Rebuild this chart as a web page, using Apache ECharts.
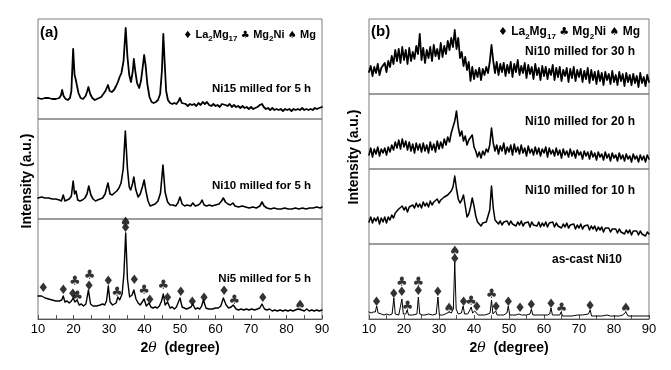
<!DOCTYPE html>
<html><head><meta charset="utf-8">
<script src="https://cdn.jsdelivr.net/npm/echarts@6/dist/echarts.min.js"></script>
<style>html,body{margin:0;padding:0;background:#fff}#c{width:671px;height:370px}</style>
</head><body><div id="c"></div>
<script>
// ---------- tick labels ----------
const xTicks = [10, 20, 30, 40, 50, 60, 70, 80, 90];
const xMin = 10, xMax = 90;

// ---------- panel (a): [2theta, intensity] ----------
const ni15_5h = [[10,21],[10.5,23],[11,20],[11.5,22],[12,21],[12.5,19],[13,21],[13.5,19],[14,20],[14.5,18],[15,20],[15.5,19],[16,21],[16.5,24],[16.8,29],[17.2,23],[17.8,20],[18.4,19],[19.0,21],[19.4,28],[19.9,70],[20.3,44],[20.6,40],[20.9,42],[21.4,26],[22,21],[22.7,20],[23.4,23],[23.8,27],[24.2,32],[24.7,25],[25.3,21],[26,19],[26.6,20],[27.2,21],[27.8,22],[28.4,25],[29,28],[29.7,34],[30.2,28],[30.8,27],[31.4,29],[32,33],[32.5,37],[33,42],[33.5,46],[34.1,58],[34.7,91],[35.2,62],[35.7,44],[36.2,37],[36.7,48],[37.0,60],[37.4,48],[37.9,36],[38.5,31],[39.0,38],[39.5,52],[39.9,64],[40.3,54],[40.8,35],[41.4,22],[42,17],[42.6,16],[43.2,17],[43.8,19],[44.4,25],[44.9,48],[45.3,85],[45.7,55],[46.1,28],[46.6,19],[47.2,16],[47.8,15],[48.4,16],[49,15],[49.6,18],[50.0,21],[50.5,16],[51,14],[51.6,15],[52.2,13],[52.8,15],[53.4,14],[54,15],[54.6,13],[55.2,16],[55.8,14],[56.4,17],[57,15],[57.6,17],[58.2,14],[58.8,13],[59.4,15],[60,13],[60.6,14],[61.2,12],[61.8,15],[62.3,17],[62.8,14],[63.4,13],[64,15],[64.6,12],[65.2,14],[65.8,12],[66.4,13],[67,11],[67.6,13],[68.2,11],[68.8,12],[69.4,10],[70,12],[70.6,10],[71.2,11],[71.8,12],[72.5,14],[73.1,15],[73.6,12],[74.2,10],[74.8,11],[75.4,9],[76,11],[76.6,9],[77.2,10],[77.8,9],[78.4,10],[79,8],[79.6,10],[80.2,9],[80.8,10],[81.4,8],[82,10],[82.6,9],[83.2,10],[83.8,9],[84.4,11],[85,9],[85.6,10],[86.2,9],[86.8,10],[87.4,9],[88,11],[88.6,10],[89.2,11],[90,12]];

const ni10_5h = [[10,21],[10.5,19],[11,22],[11.5,20],[12,21],[12.5,19],[13,21],[13.5,19],[14,20],[14.5,18],[15,20],[15.5,18],[16,19],[16.6,18],[17.1,24],[17.6,18],[18.2,19],[18.8,20],[19.4,23],[19.9,38],[20.3,25],[20.7,28],[21.2,19],[21.8,18],[22.5,19],[23.2,21],[23.8,25],[24.3,33],[24.9,24],[25.5,20],[26.2,18],[26.8,19],[27.5,20],[28.2,21],[28.9,25],[29.7,36],[30.3,25],[30.9,24],[31.5,26],[32.2,28],[32.8,31],[33.4,36],[34.0,50],[34.6,88],[35.2,50],[35.7,32],[36.1,29],[36.6,35],[37.0,42],[37.5,30],[38.2,22],[38.8,25],[39.4,32],[39.9,39],[40.4,28],[41.0,18],[41.6,13],[42.3,14],[43,15],[43.8,18],[44.5,26],[45.2,54],[45.8,27],[46.5,17],[47.2,14],[48,14],[48.8,13],[49.4,16],[50.0,22],[50.6,15],[51.3,13],[52,14],[53,13],[53.6,16],[54.3,13],[55.2,14],[55.8,16],[56.2,19],[56.8,14],[57.5,13],[58.3,14],[59,13],[60,14],[61,15],[61.7,18],[62.2,21],[62.8,17],[63.5,15],[64.2,14],[64.9,16],[65.5,13],[66.5,12],[67.5,13],[68.5,12],[69.5,11],[70.5,12],[71.5,11],[72.5,13],[73.1,17],[73.7,13],[74.5,11],[75.5,10],[76.5,11],[77.5,10],[78.5,10],[79.5,11],[80.5,10],[81.5,10],[82.5,11],[83.5,10],[84.5,11],[85.5,10],[86.5,11],[87.5,11],[88.5,12],[89.5,11],[90,12]];

const ni5_5h = [[10,23],[10.5,22],[11,23],[11.5,25],[12,21],[12.5,22],[13,20],[13.5,21],[14,19],[14.5,20],[15,18],[15.5,19],[16,18],[16.7,19],[17.1,23],[17.6,17],[18.2,18],[18.8,16],[19.4,18],[19.9,21],[20.4,17],[21.0,19],[21.6,14],[22.2,15],[22.8,13],[23.5,15],[24.2,29],[24.8,15],[25.5,13],[26,14],[26.5,13],[27,15],[27.5,14],[28.2,15],[28.8,14],[29.3,18],[29.8,33],[30.3,17],[31,14],[31.5,15],[32,16],[32.5,22],[33,19],[33.7,25],[34.2,45],[34.7,86],[35.2,40],[35.8,22],[36.5,24],[37.0,29],[37.6,20],[38.2,16],[38.8,14],[39.3,16],[39.9,20],[40.5,13],[41.3,16],[41.8,12],[42.4,11],[43,12],[43.6,11],[44.2,13],[44.8,18],[45.3,25],[45.8,14],[46.5,17],[47.2,11],[47.8,12],[48.4,10],[49,12],[49.5,14],[50.0,21],[50.6,12],[51.2,11],[51.8,10],[52.5,11],[53.1,12],[53.6,15],[54.3,10],[55,11],[55.6,10],[56.1,13],[56.6,19],[57.3,11],[58,10],[58.5,11],[59.2,10],[60,11],[60.8,11],[61.5,13],[62.2,21],[63,14],[63.7,11],[64.4,12],[65,14],[65.8,10],[66.5,9],[67.2,10],[68,9],[68.7,10],[69.4,9],[70.2,10],[71,9],[71.8,10],[72.5,11],[73.1,15],[73.8,10],[74.5,9],[75.2,10],[76,8],[76.7,9],[77.4,8],[78.2,9],[79,8],[79.7,9],[80.4,8],[81.1,9],[81.8,8],[82.5,9],[83.2,10],[83.7,12],[84.3,9],[85,8],[85.7,10],[86.4,8],[87.1,9],[87.8,8],[88.5,9],[89.2,8],[90,9]];

// ---------- panel (b): sampled every 0.5 deg from 10 to 90 ----------
const bStart = 10, bStep = 0.5;
const ni10_30h = [22,28,18,27,21,30,19,26,24,31,22,33,27,38,30,44,33,45,31,47,34,44,30,46,33,42,35,48,40,60,34,46,31,44,36,47,33,49,38,45,35,51,37,48,40,53,44,56,47,64,45,56,36,42,28,37,24,32,13,27,15,24,17,26,14,25,19,27,21,32,49,33,21,32,19,30,22,31,18,29,21,32,17,30,22,34,19,28,21,31,16,29,20,27,15,30,19,26,14,28,18,27,15,25,19,29,14,26,17,27,13,24,18,26,12,25,16,27,13,24,17,25,12,23,15,26,11,24,14,22,10,23,13,21,9,22,14,20,10,23,12,19,9,22,13,20,8,21,12,19,9,20,11,18,7,21,11,17,8,19,12];
const ni10_20h = [14,21,12,20,15,22,13,20,16,21,14,22,17,24,19,27,21,29,20,30,22,28,19,27,18,25,16,26,19,25,17,26,18,24,16,27,19,25,17,28,20,27,21,30,24,32,27,36,35,48,58,42,33,38,28,33,24,29,30,34,22,18,12,17,11,18,14,20,17,24,41,26,18,24,15,23,18,26,15,22,17,24,14,25,17,22,15,24,16,21,13,23,16,20,14,22,15,21,13,20,16,22,12,21,15,19,13,21,14,19,11,20,14,18,12,20,13,18,11,19,14,17,10,18,13,17,10,18,12,16,9,17,12,15,9,17,11,15,8,16,11,14,8,16,10,14,8,15,10,13,7,15,10,13,7,14,9,13,7,14,10];
const ni10_10h = [22,27,21,26,23,27,20,26,22,27,21,27,24,29,26,31,31,35,33,38,34,37,32,37,35,39,36,41,37,40,36,42,38,41,37,43,39,42,40,45,41,44,43,47,45,49,49,53,57,68,55,45,41,44,49,38,27,30,37,46,38,28,22,20,18,21,19,22,23,34,58,36,24,23,20,23,19,22,20,23,19,23,20,22,18,22,19,23,18,21,19,22,17,22,19,21,18,22,17,21,18,22,17,21,19,22,17,21,18,20,16,20,17,21,16,19,17,20,15,19,16,20,15,18,16,19,14,18,15,18,13,17,14,17,12,16,14,16,12,15,13,15,11,15,12,14,10,14,11,14,9,13,11,13,9,13,10,12,8,12,10];
const asCastNi10 = [[10,7],[10.6,6],[11.2,7],[11.8,7],[12.2,13],[12.6,6],[13.5,5],[14.3,4],[15,5],[15.8,4],[16.6,5],[17.1,21],[17.5,5],[18.5,4],[19.0,5],[19.4,20],[19.8,5],[20.5,5],[20.9,9],[21.3,4],[22.5,4],[23.7,5],[24.1,22],[24.5,5],[25.3,4],[26,4],[27,5],[27.5,6],[28.2,4],[29.2,5],[29.7,22],[30.1,4],[31,4],[31.8,5],[32.3,6],[32.9,7],[33.5,6],[34.1,10],[34.5,57],[34.9,10],[35.5,5],[36.4,6],[36.9,13],[37.3,5],[38.2,5],[38.7,8],[39.2,12],[39.6,6],[40.2,8],[40.7,8],[41.2,4],[42,4],[43,4],[44,5],[44.6,6],[45.0,19],[45.4,5],[46.2,8],[46.6,4],[47.5,4],[48.5,4],[49.4,6],[49.8,13],[50.2,4],[51,4],[52,4],[52.8,5],[53.2,7],[53.6,4],[55,4],[56,5],[56.4,10],[56.8,4],[58,4],[59,4],[60,4],[61,4],[61.6,5],[62.0,11],[62.4,4],[63.3,4],[64.5,4],[64.9,7],[65.3,3],[66.5,3],[68,3],[69.5,4],[71,4],[72.7,5],[73.2,9],[73.6,3],[75,3],[76.5,3],[78,4],[79,3],[80,3],[81.5,3],[82.5,4],[83.4,7],[84,3],[85.5,3],[87,3],[88.5,3],[90,3]];

// ---------- phase markers ----------
const diamondA = [[11.5,30],[17.1,28],[19.8,24],[24.4,32],[29.8,37],[34.7,90],[37.1,38],[41.5,18],[46.5,20],[50.2,26],[53.5,16],[56.8,20],[62.4,27],[73.3,20]];
const clubA = [[20.4,37],[21.1,22],[24.5,43],[32.3,26],[39.9,28],[45.3,33],[65.3,18]];
const spadeA = [[34.7,96],[83.8,13]];
const diamondB = [[12.2,16],[17.1,24],[19.4,26],[24.1,27],[29.7,26],[34.5,59],[37.0,16],[40.8,11],[46.3,11],[49.8,16],[53.2,10],[56.4,13],[62.0,14],[73.2,12]];
const clubB = [[19.4,36],[21.0,12],[24.1,36],[39.2,17],[45.0,24],[65.0,10]];
const spadeB = [[32.9,10],[34.5,67],[83.4,10]];

// ---------- texts ----------
const labelsA = ['Ni15 milled for 5 h', 'Ni10 milled for 5 h', 'Ni5 milled for 5 h'];
const labelsB = ['Ni10 milled for 30 h', 'Ni10 milled for 20 h', 'Ni10 milled for 10 h', 'as-cast Ni10'];

const FONT = '"Liberation Sans", Arial, "DejaVu Sans", sans-serif';
const chart = echarts.init(document.getElementById('c'), null, {renderer: 'canvas'});

const gridsA = [19, 119, 219].map(t => ({left: 38, top: t, width: 284, height: 100}));
const gridsB = [19, 94, 169, 244].map(t => ({left: 369, top: t, width: 280, height: 75}));
const grids = gridsA.concat(gridsB).map(g => Object.assign(g, {show: true, borderColor: '#7a7a7a', borderWidth: 1, backgroundColor: 'transparent'}));

const bottomIdx = [2, 6];
const xAxes = grids.map((g, i) => {
  const bottom = bottomIdx.includes(i);
  return {
    type: 'value', gridIndex: i, min: xMin, max: xMax, interval: 10, show: bottom,
    axisLine: {show: true, lineStyle: {color: '#555', width: 1}},
    axisTick: {show: true, inside: true, length: 4, lineStyle: {color: '#555'}},
    minorTick: {show: true, splitNumber: 2, length: 4, lineStyle: {color: '#555'}},
    splitLine: {show: false},
    axisLabel: {show: bottom, fontSize: 13, color: '#000', fontFamily: FONT, margin: 4,
      formatter: v => xTicks.includes(v) ? String(v) : ''}
  };
});
const yAxes = grids.map((g, i) => ({type: 'value', gridIndex: i, min: 0, max: i < 3 ? 100 : 75, show: false}));

function line(data, gi, w) {
  return {type: 'line', xAxisIndex: gi, yAxisIndex: gi, data: data, showSymbol: false, symbol: 'none',
    lineStyle: {color: '#000', width: w, join: 'round', cap: 'round'}, silent: true, z: 2, animation: false};
}
function sampled(arr) { return arr.map((v, i) => [bStart + i * bStep, v]); }
function marks(data, gi, ch) {
  return {type: 'scatter', xAxisIndex: gi, yAxisIndex: gi, data: data, symbolSize: 1,
    itemStyle: {color: 'rgba(0,0,0,0)'}, silent: true, z: 5, animation: false,
    label: {show: true, position: 'inside', formatter: ch, color: '#000', fontSize: 13, fontFamily: '"DejaVu Sans", sans-serif'}};
}

const series = [
  line(ni15_5h, 0, 1.8), line(ni10_5h, 1, 1.6), line(ni5_5h, 2, 1.4),
  line(sampled(ni10_30h), 3, 1.8), line(sampled(ni10_20h), 4, 1.6), line(sampled(ni10_10h), 5, 1.5), line(asCastNi10, 6, 1),
  marks(diamondA, 2, '\u2666'), marks(clubA, 2, '\u2663'), marks(spadeA, 2, '\u2660'),
  marks(diamondB, 6, '\u2666'), marks(clubB, 6, '\u2663'), marks(spadeB, 6, '\u2660')
];

function txt(x, y, text, size, align, extra) {
  return Object.assign({type: 'text', x: x, y: y, z: 10, silent: true,
    style: {text: text, font: 'bold ' + size + 'px ' + FONT, fill: '#000', align: align || 'left', verticalAlign: 'middle'}}, extra || {});
}
function legend(x, y, size) {
  const sub = Math.round(size * 0.7);
  return {type: 'text', x: x, y: y, z: 10, silent: true,
    style: {text: '{s|\u2666} {m|La}{u|2}{m|Mg}{u|17} {s|\u2663} {m|Mg}{u|2}{m|Ni} {s|\u2660} {m|Mg}', align: 'right', verticalAlign: 'middle',
      rich: {
        m: {font: 'bold ' + size + 'px ' + FONT, fill: '#000', lineHeight: size + 5, verticalAlign: 'middle'},
        u: {font: 'bold ' + sub + 'px ' + FONT, fill: '#000', lineHeight: size + 5, verticalAlign: 'bottom'},
        s: {font: (size - 1) + 'px "DejaVu Sans", sans-serif', fill: '#000', lineHeight: size + 5, verticalAlign: 'middle'}
      }}};
}
function xTitle(cx) {
  return {type: 'text', x: cx, y: 348, z: 10, silent: true,
    style: {text: '{b|2}{t|\u03B8}{b|  (degree)}', align: 'center', verticalAlign: 'middle',
      rich: {b: {font: 'bold 14px ' + FONT, fill: '#000'}, t: {font: 'italic 14px "DejaVu Serif", serif', fill: '#000'}}}};
}
function yTitle(cx, cy) {
  return {type: 'text', x: cx, y: cy, rotation: Math.PI / 2, z: 10, silent: true,
    style: {text: 'Intensity (a.u.)', font: 'bold 14px ' + FONT, fill: '#000', align: 'center', verticalAlign: 'middle'}};
}

const graphic = [
  txt(40, 33, '(a)', 15), txt(371, 32, '(b)', 15),
  legend(316, 35, 11), legend(640, 32, 12),
  txt(311, 89, labelsA[0], 11.5, 'right'), txt(311, 186, labelsA[1], 11.5, 'right'), txt(311, 279, labelsA[2], 11.5, 'right'),
  txt(635, 52, labelsB[0], 12, 'right'), txt(635, 122, labelsB[1], 12, 'right'), txt(635, 191, labelsB[2], 12, 'right'), txt(622, 260, labelsB[3], 12, 'right'),
  xTitle(180), xTitle(509), yTitle(27, 181), yTitle(354, 157)
];

chart.setOption({animation: false, backgroundColor: '#fff', grid: grids, xAxis: xAxes, yAxis: yAxes, series: series, graphic: graphic});
</script></body></html>
